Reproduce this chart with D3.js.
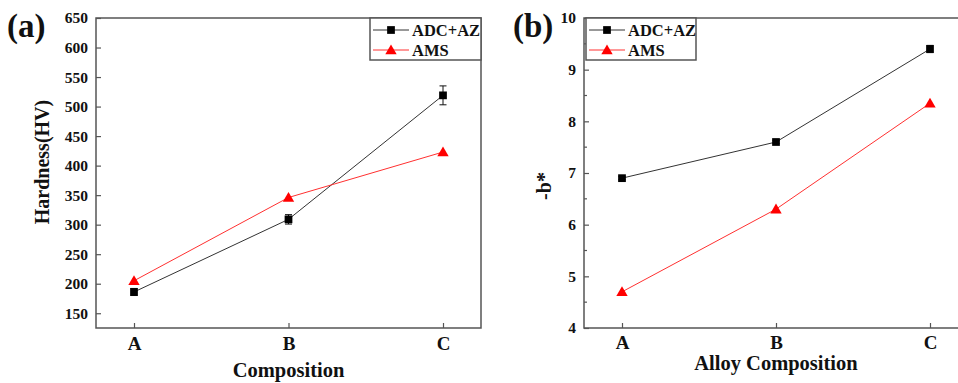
<!DOCTYPE html>
<html><head><meta charset="utf-8">
<script src="https://cdn.jsdelivr.net/npm/d3@7"></script>
<style>body{margin:0;background:#fff}svg{display:block}text{font-family:"Liberation Serif","Times New Roman",serif;font-weight:bold;fill:#111}</style>
</head><body>
<svg id="c" width="958" height="383"></svg>
<script>
const categories = ["A","B","C"];
const seriesNames = ["ADC+AZ","AMS"];
// Panel (a) hardness
const hardAdc = [186, 309, 519];
const hardAdcErr = [6, 8, 16];
const hardAms = [205, 346, 423];
const hardTicks = [150,200,250,300,350,400,450,500,550,600,650];
// Panel (b) -b*
const bAdc = [6.9, 7.6, 9.4];
const bAdcErr = [0.03, 0.03, 0.07];
const bAms = [4.7, 6.3, 8.35];
const bTicks = [4,5,6,7,8,9,10];
const bMinor = [4.5,5.5,6.5,7.5,8.5,9.5];

const svg = d3.select("#c");
const frameCol = "#555";

function panel(o){
  const g = svg.append("g");
  const x = d3.scalePoint().domain(categories).range([o.left+38, o.right-38]);
  const y = d3.scaleLinear().domain(o.domain).range([o.bottom, o.top]);
  g.append("rect").attr("x",o.left).attr("y",o.top).attr("width",o.right-o.left).attr("height",o.bottom-o.top)
    .attr("fill","none").attr("stroke",frameCol).attr("stroke-width",1.5);
  const ya = d3.axisLeft(y).tickValues(o.ticks).tickSize(-5).tickPadding(8).tickFormat(d3.format("d"));
  const yg = g.append("g").attr("transform",`translate(${o.left},0)`).call(ya);
  yg.select(".domain").remove();
  yg.selectAll("line").attr("stroke",frameCol).attr("stroke-width",1.2);
  yg.selectAll("text").style("font-size","15.5px").style("font-family","Liberation Serif").style("font-weight","bold").attr("fill","#111");
  if(o.minor){
    g.selectAll(".mn").data(o.minor).enter().append("line")
      .attr("x1",o.left).attr("x2",o.left+3).attr("y1",d=>y(d)).attr("y2",d=>y(d)).attr("stroke",frameCol).attr("stroke-width",1.2);
  }
  const xa = d3.axisBottom(x).tickSize(-5).tickPadding(o.xpad);
  const xg = g.append("g").attr("transform",`translate(0,${o.bottom})`).call(xa);
  xg.select(".domain").remove();
  xg.selectAll("line").attr("stroke",frameCol).attr("stroke-width",1.2);
  xg.selectAll("text").style("font-size","19px").style("font-family","Liberation Serif").style("font-weight","bold").attr("fill","#111");
  const line = d3.line().x((d,i)=>x(categories[i])).y(d=>y(d));
  g.append("path").datum(o.adc).attr("d",line).attr("fill","none").attr("stroke","#333").attr("stroke-width",1);
  g.append("path").datum(o.ams).attr("d",line).attr("fill","none").attr("stroke","#ff3030").attr("stroke-width",1);
  o.adc.forEach((v,i)=>{
    const cx = x(categories[i]), e = o.err[i];
    g.append("line").attr("x1",cx).attr("x2",cx).attr("y1",y(v-e)).attr("y2",y(v+e)).attr("stroke","#111").attr("stroke-width",1);
    [v-e,v+e].forEach(w=>g.append("line").attr("x1",cx-3.5).attr("x2",cx+3.5).attr("y1",y(w)).attr("y2",y(w)).attr("stroke","#111").attr("stroke-width",1));
  });
  const sq = d3.symbol().type(d3.symbolSquare).size(60);
  const tri = d3.symbol().type(d3.symbolTriangle).size(56);
  g.selectAll(".sq").data(o.adc).enter().append("path").attr("d",sq)
    .attr("transform",(d,i)=>`translate(${x(categories[i])},${y(d)})`).attr("fill","#000");
  g.selectAll(".tr").data(o.ams).enter().append("path").attr("d",tri)
    .attr("transform",(d,i)=>`translate(${x(categories[i])},${y(d)+1})`).attr("fill","#ff0000");
  const L = o.legend;
  g.append("rect").attr("x",L.x).attr("y",L.y).attr("width",L.w).attr("height",L.h).attr("fill","#fff").attr("stroke",frameCol).attr("stroke-width",1.5);
  const cols = ["#333","#ff3030"];
  seriesNames.forEach((n,i)=>{
    const ly = L.y + 12 + i*20;
    g.append("line").attr("x1",L.x+3).attr("x2",L.x+39).attr("y1",ly).attr("y2",ly).attr("stroke",cols[i]).attr("stroke-width",1);
    g.append("path").attr("d", i===0?sq:tri).attr("transform",`translate(${L.x+21},${ly+(i?1:0)})`).attr("fill", i===0?"#000":"#ff0000");
    g.append("text").attr("x",L.x+42).attr("y",ly+5.5).text(n).style("font-size","16.5px");
  });
  g.append("text").attr("x",o.panelX).attr("y",37).text(o.panelLabel).style("font-size","33px");
  g.append("text").attr("transform",`translate(${o.ytX},${o.ytY}) rotate(-90)`).attr("text-anchor","middle").text(o.ytitle).style("font-size","20px");
  g.append("text").attr("x",x("B")).attr("y",o.xtY).attr("text-anchor","middle").text(o.xtitle).style("font-size","20.5px");
}

panel({left:96,right:481,top:18,bottom:328,domain:[125,650],ticks:hardTicks,
  adc:hardAdc,err:hardAdcErr,ams:hardAms,xpad:9,
  legend:{x:370,y:18,w:111,h:42},panelLabel:"(a)",panelX:7,
  ytitle:"Hardness(HV)",ytX:49,ytY:162,xtitle:"Composition",xtY:377});
panel({left:584,right:968,top:18,bottom:328,domain:[4,10],ticks:bTicks,minor:bMinor,
  adc:bAdc,err:bAdcErr,ams:bAms,xpad:8,
  legend:{x:586,y:18,w:110,h:42},panelLabel:"(b)",panelX:513,
  ytitle:"-b*",ytX:551,ytY:186,xtitle:"Alloy Composition",xtY:370});
</script>
</body></html>
